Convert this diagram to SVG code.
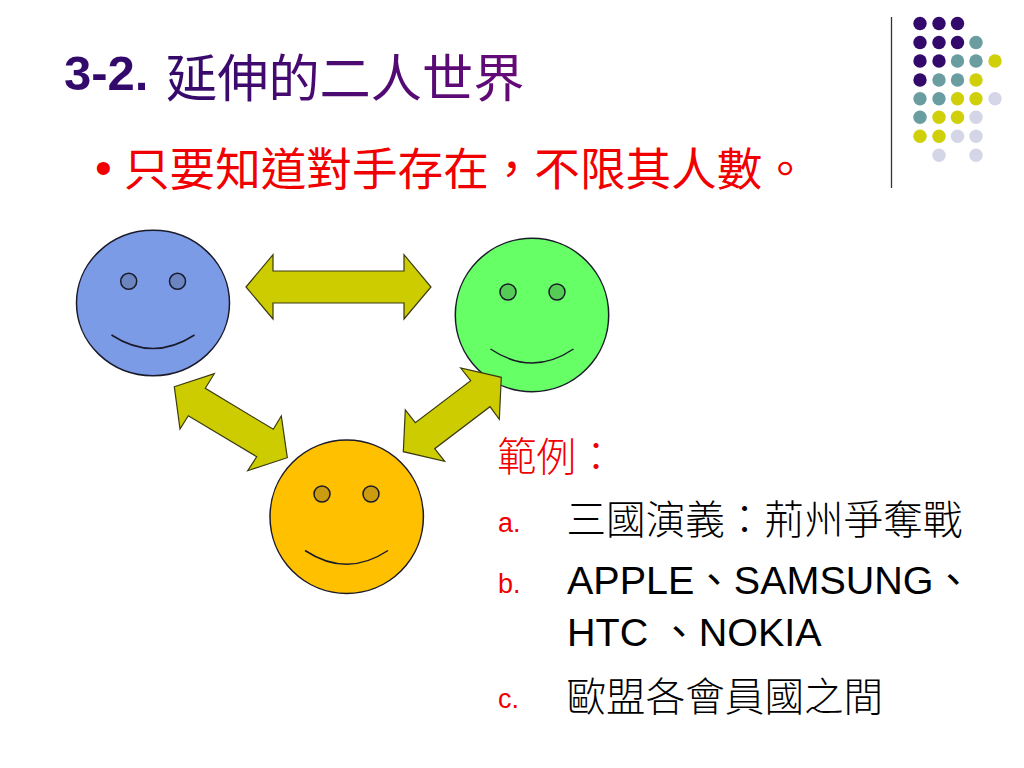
<svg xmlns="http://www.w3.org/2000/svg" width="1024" height="768" viewBox="0 0 1024 768">
<style>
.cjk{font-family:"Liberation Sans","Noto Sans CJK TC",sans-serif}
.face{stroke:#1a1a2a;stroke-width:1.5}
.eye{stroke:#1a1a2a;stroke-width:1.5}
.smile{fill:none;stroke:#1a1a2a;stroke-width:1.5}
.arrow{fill:#cccc00;stroke:#3a3a10;stroke-width:1.2}
.p{fill:#330a6b}.t{fill:#6a9da0}.y{fill:#cfcf0a}.l{fill:#d5d5e8}
</style>
<defs><linearGradient id="tg" gradientUnits="userSpaceOnUse" x1="160" y1="0" x2="530" y2="0"><stop offset="0" stop-color="#330a6b"/><stop offset="1" stop-color="#660a78"/></linearGradient></defs>
<rect width="1024" height="768" fill="#fff"/>
<line x1="891.500" y1="17" x2="891.500" y2="188" stroke="#333" stroke-width="1.300"/>
<g id="dots">
<circle class="p" cx="920" cy="23.500" r="6.700"/><circle class="p" cx="939" cy="23.500" r="6.700"/><circle class="p" cx="957.500" cy="23.500" r="6.700"/>
<circle class="p" cx="920" cy="42.500" r="6.700"/><circle class="p" cx="939" cy="42.500" r="6.700"/><circle class="p" cx="957.500" cy="42.500" r="6.700"/><circle class="t" cx="976" cy="42.500" r="6.700"/>
<circle class="p" cx="920" cy="61" r="6.700"/><circle class="p" cx="939" cy="61" r="6.700"/><circle class="t" cx="957.500" cy="61" r="6.700"/><circle class="t" cx="976" cy="61" r="6.700"/><circle class="y" cx="995" cy="61" r="6.700"/>
<circle class="p" cx="920" cy="80" r="6.700"/><circle class="t" cx="939" cy="80" r="6.700"/><circle class="t" cx="957.500" cy="80" r="6.700"/><circle class="y" cx="976" cy="80" r="6.700"/>
<circle class="t" cx="920" cy="98.700" r="6.700"/><circle class="t" cx="939" cy="98.700" r="6.700"/><circle class="y" cx="957.500" cy="98.700" r="6.700"/><circle class="y" cx="976" cy="98.700" r="6.700"/><circle class="l" cx="995" cy="98.700" r="6.700"/>
<circle class="t" cx="920" cy="117.300" r="6.700"/><circle class="y" cx="939" cy="117.300" r="6.700"/><circle class="y" cx="957.500" cy="117.300" r="6.700"/><circle class="l" cx="976" cy="117.300" r="6.700"/>
<circle class="y" cx="920" cy="136.300" r="6.700"/><circle class="y" cx="939" cy="136.300" r="6.700"/><circle class="l" cx="957.500" cy="136.300" r="6.700"/><circle class="l" cx="976" cy="136.300" r="6.700"/>
<circle class="l" cx="939" cy="155.300" r="6.700"/><circle class="l" cx="976" cy="155.300" r="6.700"/>
</g>
<g id="title"><text class="cjk" x="64" y="90" font-size="49" font-weight="bold" fill="#330a6b">3-2.</text>
<text class="cjk" x="166" y="97" font-size="51.200" font-weight="400" fill="url(#tg)">延伸的二人世界</text></g>
<g id="bullet"><text class="cjk" x="95" y="184" font-size="48" fill="#f00000">•</text>
<text class="cjk" x="124" y="186" font-size="45.600" font-weight="400" fill="#f00000">只要知道對手存在&#xFF0C;不限其人數。</text></g>
<g id="face-blue">
<ellipse class="face" cx="153" cy="303" rx="76.500" ry="72.700" fill="#7b9be6"/>
<circle class="eye" cx="128.700" cy="281.300" r="8" fill="#6a85c0"/><circle class="eye" cx="177.500" cy="281.300" r="8" fill="#6a85c0"/>
<path class="smile" d="M111.500 335Q153 362 194.500 335"/></g>
<g id="face-green">
<circle class="face" cx="532" cy="315" r="76.700" fill="#66ff66"/>
<circle class="eye" cx="508" cy="292" r="8" fill="#55cc55"/><circle class="eye" cx="557" cy="292" r="8" fill="#55cc55"/>
<path class="smile" d="M490.500 349Q532 377 573.500 349"/></g>
<g id="face-orange">
<circle class="face" cx="346.700" cy="516.700" r="76.700" fill="#ffc000"/>
<circle class="eye" cx="322" cy="494" r="8" fill="#cc9c10"/><circle class="eye" cx="371" cy="494" r="8" fill="#cc9c10"/>
<path class="smile" d="M305 550.500Q346.700 578 388 550.500"/></g>
<g id="connectors">
<polygon class="arrow" points="246,287 273,254.700 273,271 404,271 404,254.700 431,287 404,319 404,303 273,303 273,319"/>
<polygon class="arrow" points="174.300,386.700 214.300,373.700 205.300,388.300 273.300,429.300 281.300,416 287.300,457.700 247.700,470.700 256.700,456.700 188.300,415.700 180,429"/>
<polygon class="arrow" points="403.300,451.700 405.300,410 415.300,422.700 470.700,380.700 460.700,368 501.300,377.300 499.300,419.300 490,406.700 434.700,448.700 444.700,461.300"/>
</g>
<g id="examples" class="cjk">
<text x="497" y="471" font-size="39.600" font-weight="300" fill="#f00000">範例&#xFF1A;</text>
<text x="498" y="532" font-size="27" fill="#f00000">a.</text>
<text x="566.500" y="534" font-size="39.600" font-weight="300" fill="#000">三國演義&#xFF1A;荊州爭奪戰</text>
<text x="498" y="593" font-size="27" fill="#f00000">b.</text>
<text x="567" y="594" font-size="39.500" fill="#000">APPLE、SAMSUNG、</text>
<text x="567" y="646" font-size="39.500" fill="#000">HTC 、NOKIA</text>
<text x="498" y="708" font-size="27" fill="#f00000">c.</text>
<text x="566.500" y="711" font-size="39.600" font-weight="300" fill="#000">歐盟各會員國之間</text>
</g>
</svg>
